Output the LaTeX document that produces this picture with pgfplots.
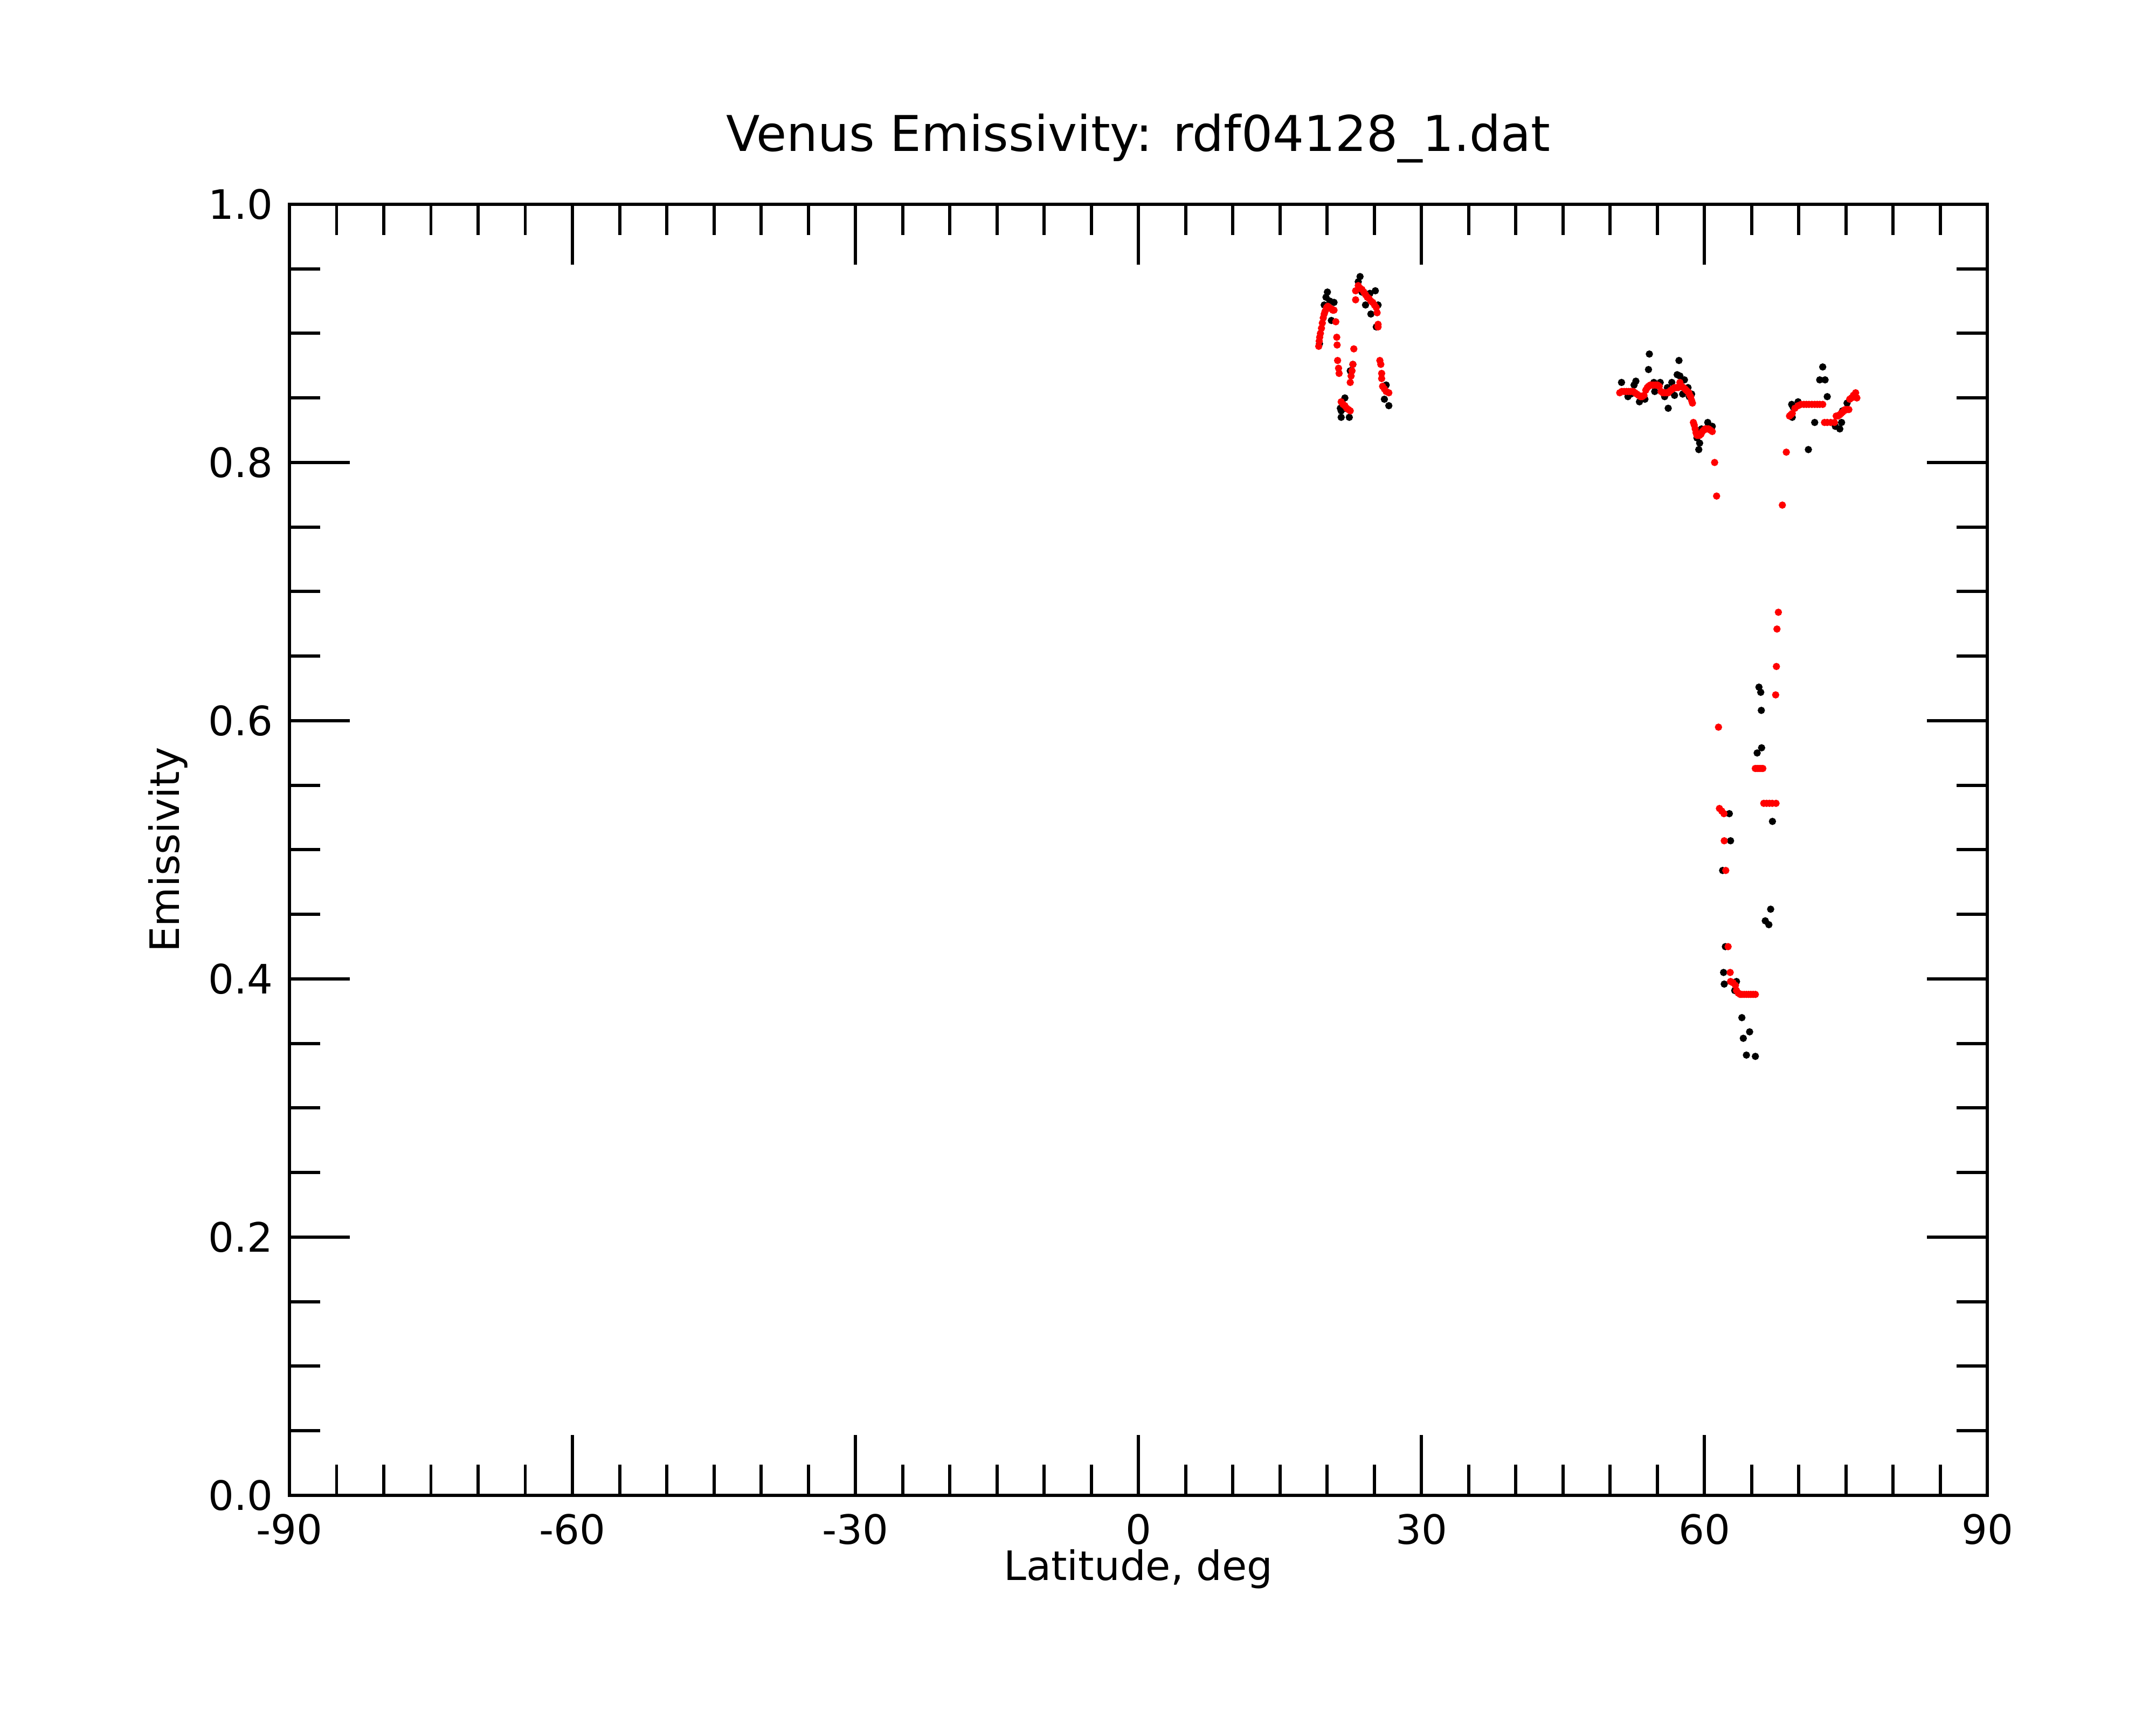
\documentclass[border=0pt]{standalone}
\usepackage{fontspec}
\setmainfont{DejaVu Sans}
\usepackage{pgfplots}
\pgfplotsset{compat=1.18}
\usepackage{pgfplotstable}
\pgfplotstableread{
x y
20.04 0.932
19.89 0.928
19.70 0.922
20.46 0.910
20.74 0.924
20.30 0.925
19.20 0.892
23.50 0.944
23.31 0.940
25.12 0.933
24.55 0.931
24.65 0.915
25.41 0.922
24.08 0.922
23.70 0.932
24.30 0.928
21.89 0.850
21.50 0.840
21.50 0.835
22.36 0.835
21.41 0.842
21.90 0.842
22.46 0.871
22.74 0.876
26.27 0.860
26.08 0.849
26.55 0.844
25.22 0.905
51.22 0.862
54.17 0.884
54.08 0.872
52.74 0.863
52.55 0.860
51.90 0.851
52.20 0.853
53.12 0.847
53.30 0.850
53.70 0.849
54.65 0.862
55.32 0.862
54.74 0.855
55.79 0.851
56.08 0.858
56.17 0.842
56.55 0.862
56.84 0.852
57.31 0.879
57.12 0.868
57.41 0.867
57.89 0.864
57.70 0.853
58.27 0.858
58.40 0.851
58.65 0.853
60.36 0.831
60.84 0.828
59.70 0.826
59.22 0.819
59.50 0.815
59.41 0.810
62.65 0.528
62.78 0.507
61.94 0.484
62.23 0.425
62.04 0.405
62.11 0.396
63.41 0.398
63.22 0.391
63.98 0.370
64.80 0.359
64.13 0.354
64.46 0.341
65.41 0.340
65.79 0.626
65.98 0.622
66.04 0.608
66.07 0.579
65.60 0.575
67.22 0.522
67.03 0.454
66.46 0.445
66.84 0.442
72.55 0.874
72.23 0.864
72.80 0.864
73.03 0.851
69.94 0.847
69.26 0.845
69.41 0.843
69.32 0.835
71.70 0.831
71.03 0.810
73.89 0.828
74.36 0.826
74.55 0.831
74.65 0.840
75.13 0.846
}\blackdata
\pgfplotstableread{
x y
19.12 0.890
19.17 0.894
19.22 0.897
19.30 0.900
19.41 0.904
19.50 0.908
19.60 0.912
19.70 0.915
19.79 0.917
19.95 0.920
20.08 0.921
20.25 0.920
20.46 0.919
20.60 0.918
20.74 0.918
20.93 0.909
21.03 0.897
21.07 0.891
21.12 0.879
21.22 0.873
21.28 0.869
21.50 0.847
21.70 0.845
21.89 0.844
22.08 0.842
22.27 0.841
22.46 0.840
22.46 0.862
22.55 0.867
22.65 0.871
22.74 0.876
22.84 0.888
23.03 0.926
23.03 0.933
23.31 0.937
23.50 0.935
23.70 0.934
23.90 0.932
24.08 0.930
24.27 0.928
24.46 0.927
24.65 0.925
24.84 0.924
25.03 0.922
25.22 0.920
25.31 0.916
25.41 0.907
25.41 0.905
25.60 0.879
25.70 0.876
25.79 0.869
25.79 0.865
25.89 0.859
26.08 0.857
26.27 0.855
26.55 0.854
51.03 0.854
51.25 0.855
51.50 0.855
51.75 0.855
51.98 0.855
52.20 0.855
52.46 0.855
52.65 0.854
52.84 0.853
53.03 0.852
53.22 0.851
53.40 0.851
53.60 0.852
53.79 0.856
53.95 0.858
54.08 0.859
54.27 0.860
54.46 0.860
54.65 0.860
54.84 0.860
55.03 0.860
55.22 0.859
55.41 0.855
55.60 0.854
55.79 0.854
55.98 0.854
56.17 0.854
56.30 0.855
56.46 0.856
56.65 0.857
56.84 0.858
57.03 0.858
57.22 0.858
57.41 0.862
57.60 0.859
57.79 0.858
57.95 0.857
58.08 0.856
58.22 0.855
58.36 0.854
58.46 0.852
58.55 0.851
58.65 0.848
58.74 0.846
58.84 0.831
58.93 0.829
59.03 0.826
59.12 0.823
59.22 0.821
59.36 0.821
59.50 0.821
59.65 0.822
59.79 0.824
59.93 0.825
60.08 0.826
60.27 0.826
60.46 0.826
60.65 0.825
60.84 0.824
61.09 0.800
61.30 0.774
61.50 0.595
61.60 0.532
61.85 0.530
62.08 0.528
62.11 0.507
62.27 0.484
62.52 0.425
62.74 0.405
62.78 0.398
63.05 0.397
63.30 0.395
63.41 0.391
63.60 0.389
63.80 0.388
63.98 0.388
64.22 0.388
64.46 0.388
64.70 0.388
64.93 0.388
65.17 0.388
65.41 0.388
65.40 0.563
65.60 0.563
65.80 0.563
66.00 0.563
66.20 0.563
66.30 0.536
66.60 0.536
66.90 0.536
67.20 0.536
67.60 0.536
67.56 0.620
67.64 0.642
67.70 0.671
67.85 0.684
68.27 0.767
68.69 0.808
69.03 0.836
69.18 0.837
69.32 0.838
69.60 0.842
69.94 0.844
70.25 0.845
70.55 0.845
70.82 0.845
71.09 0.845
71.40 0.845
71.70 0.845
71.97 0.845
72.23 0.845
72.55 0.845
72.74 0.831
73.03 0.831
73.40 0.831
73.79 0.831
73.98 0.836
74.18 0.836
74.36 0.837
74.50 0.838
74.65 0.839
74.80 0.840
74.93 0.841
75.13 0.841
75.32 0.841
75.41 0.849
75.60 0.850
75.80 0.852
76.04 0.854
76.17 0.850
}\reddata
\begin{document}
\begin{tikzpicture}
\path[use as bounding box] (0,0) rectangle (20cm,16cm);
\begin{axis}[
  at={(2.685cm,2.13cm)}, anchor=south west,
  scale only axis,
  width=15.75cm, height=11.975cm,
  xmin=-90, xmax=90, ymin=0, ymax=1,
  xtick={-90,-60,-30,0,30,60,90},
  xticklabels={-90,-60,-30,0,30,60,90},
  ytick={0,0.2,0.4,0.6,0.8,1.0},
  yticklabels={0.0,0.2,0.4,0.6,0.8,1.0},
  minor x tick num=5,
  minor y tick num=3,
  tick align=inside,
  xtick pos=both, ytick pos=both,
  xticklabel pos=lower, yticklabel pos=left,
  major tick length=0.56cm,
  minor tick length=0.285cm,
  axis line style={line width=0.85pt},
  every tick/.style={black, line width=0.85pt},
  tick label style={font=\fontsize{10.7}{12.5}\selectfont},
  xticklabel style={yshift=-0.05cm},
  yticklabel style={xshift=-0.03cm},
  xlabel={Latitude, deg},
  ylabel={Emissivity},
  label style={font=\fontsize{10.7}{12.5}\selectfont},
  xlabel style={yshift=0.2cm},
  ylabel style={yshift=-0.05cm},
  title={Venus Emissivity: rdf04128\_1.dat},
  title style={font=\fontsize{13}{15}\selectfont, yshift=0.05cm},
  clip=true,
]
\addplot[only marks, mark=*, mark size=0.75pt, black] table[x=x,y=y] {\blackdata};
\addplot[only marks, mark=*, mark size=0.75pt, red, mark options={draw=red, fill=red}] table[x=x,y=y] {\reddata};
\end{axis}
\end{tikzpicture}
\end{document}
